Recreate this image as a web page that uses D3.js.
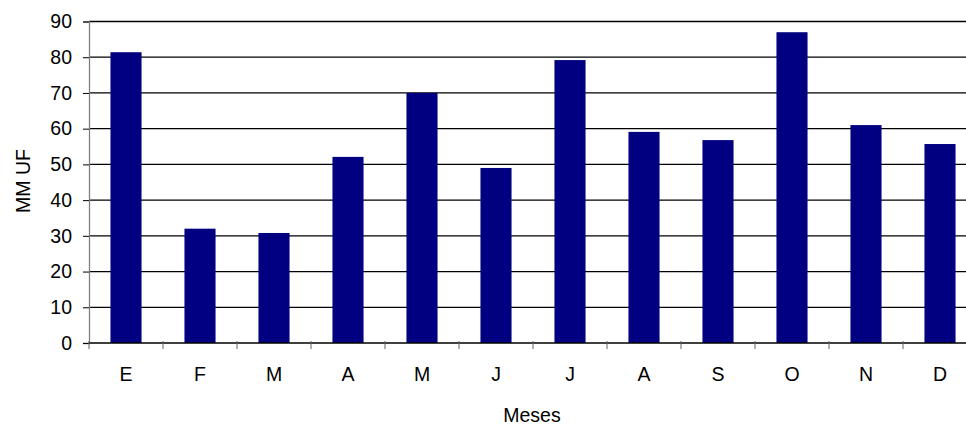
<!DOCTYPE html>
<html>
<head>
<meta charset="utf-8">
<script src="https://cdn.jsdelivr.net/npm/d3@7"></script>
<style>
  body { margin: 0; background: #fff; }
  text { font-family: "Liberation Sans", Arial, sans-serif; fill: #000; }
</style>
</head>
<body>
<div id="chart"></div>
<script>
// Data
var months = ["E", "F", "M", "A", "M", "J", "J", "A", "S", "O", "N", "D"];
var values = [81.4, 32, 30.8, 52.1, 70, 49, 79.2, 59.1, 56.8, 87, 61, 55.7];
var yTicks = [0, 10, 20, 30, 40, 50, 60, 70, 80, 90];

// Canvas
var svgWidth = 966;
var svgHeight = 427;
var margin = { top: 21.5, right: -11, bottom: 84, left: 89 };
var width = svgWidth - margin.left - margin.right;
var height = svgHeight - margin.top - margin.bottom;
var fontSize = "19.5px";

var svg = d3.select("#chart").append("svg")
    .attr("width", svgWidth).attr("height", svgHeight);
var chartGroup = svg.append("g")
    .attr("transform", `translate(${margin.left}, ${margin.top})`);

// Scales
var x = d3.scaleBand().domain(d3.range(months.length)).range([0, width]).paddingInner(0.58).paddingOuter(0.29);
var xTick = d3.scaleLinear().domain([0, months.length]).range([0, width]);
var y = d3.scaleLinear().domain([0, 90]).range([height, 0]);

// Gridlines
chartGroup.append("g").selectAll("line")
    .data(yTicks.filter(d => d > 0))
    .enter().append("line")
    .attr("x1", 0).attr("x2", width)
    .attr("y1", d => y(d)).attr("y2", d => y(d))
    .attr("stroke", "#000").attr("stroke-width", 1.3);

// Bars
chartGroup.selectAll("rect")
    .data(values)
    .enter().append("rect")
    .attr("x", (d, i) => x(i))
    .attr("width", x.bandwidth())
    .attr("y", d => y(d))
    .attr("height", d => height - y(d))
    .attr("fill", "#000080");

// Y axis
var yAxis = chartGroup.append("g")
    .call(d3.axisLeft(y).tickValues(yTicks).tickSize(6).tickPadding(11));
yAxis.select(".domain").attr("stroke", "#808080").attr("stroke-width", 1.3);
yAxis.selectAll(".tick line").attr("stroke", "#000");
yAxis.selectAll("text").style("font-size", fontSize).attr("fill", "#000");

// X axis line and ticks
chartGroup.append("line")
    .attr("x1", 0).attr("x2", width)
    .attr("y1", height).attr("y2", height)
    .attr("stroke", "#000").attr("stroke-width", 1.3);
chartGroup.append("g").selectAll("line")
    .data(d3.range(months.length + 1))
    .enter().append("line")
    .attr("x1", d => xTick(d)).attr("x2", d => xTick(d))
    .attr("y1", height - 2).attr("y2", height + 6)
    .attr("stroke", "#606060").attr("stroke-width", 1);

// X labels
chartGroup.append("g").selectAll("text")
    .data(months)
    .enter().append("text")
    .attr("x", (d, i) => x(i) + x.bandwidth() / 2)
    .attr("y", height + 38)
    .attr("text-anchor", "middle")
    .style("font-size", fontSize)
    .text(d => d);

// Axis titles
svg.append("text")
    .attr("x", 532).attr("y", 422)
    .attr("text-anchor", "middle")
    .style("font-size", fontSize)
    .text("Meses");
svg.append("text")
    .attr("transform", "translate(30, 181) rotate(-90)")
    .attr("text-anchor", "middle")
    .style("font-size", fontSize)
    .text("MM UF");
</script>
</body>
</html>
